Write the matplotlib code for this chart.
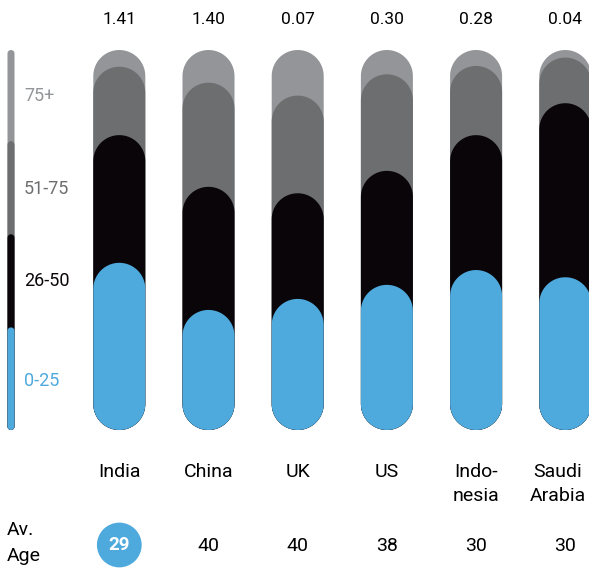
import matplotlib
matplotlib.use("Agg")
import numpy as np
import matplotlib.pyplot as plt
from matplotlib.patches import Polygon
from matplotlib.transforms import blended_transform_factory

plt.rcParams['font.family'] = ['Roboto', 'DejaVu Sans']

countries = ['India', 'China', 'UK', 'US', 'Indo-\nnesia', 'Saudi\nArabia']
population_bn = [1.41, 1.40, 0.07, 0.30, 0.28, 0.04]
age_0_25 = [44.0, 31.6, 34.5, 38.2, 42.1, 40.2]
age_26_50 = [33.6, 32.4, 27.8, 30.0, 35.5, 45.8]
age_51_75 = [18.0, 27.4, 25.7, 25.4, 18.2, 12.0]
age_75_plus = [4.4, 8.6, 12.0, 6.4, 4.2, 2.0]
avg_age = [29, 40, 40, 38, 30, 30]
group_labels = ['0-25', '26-50', '51-75', '75+']
legend_tops = [27, 51.5, 76, 100]

BLUE = '#4ea9dd'
BLACK = '#0a0509'
DARK = '#6d6e70'
LIGHT = '#939598'
colors = [BLUE, BLACK, DARK, LIGHT]

W, H = 589, 571
fig = plt.figure(figsize=(W / 100, H / 100), dpi=100)
# bar area: 50px to 430px from the top, full width
ax = fig.add_axes([0, (H - 430) / H, 1, 380 / H])
step = 89.2
x0 = 119.3
ax.set_xlim(-x0 / step, (W - x0) / step)
ax.set_ylim(0, 100)
ax.axis('off')

# y units per x unit, so the caps come out as true semicircles
aspect = (W / (ax.get_xlim()[1] - ax.get_xlim()[0])) / (380 / 100)
theta = np.linspace(0, np.pi, 40)


def pill(x, top, width, color):
    r = width / 2
    ry = r * aspect
    top_cap = np.column_stack([x + r * np.cos(theta), top - ry + ry * np.sin(theta)])
    bot_cap = np.column_stack([x - r * np.cos(theta), ry - ry * np.sin(theta)])
    ax.add_patch(Polygon(np.vstack([top_cap, bot_cap]), closed=True,
                         fc=color, ec='none'))


series = [age_0_25, age_26_50, age_51_75, age_75_plus]
bar_w = 52 / step
for i in range(len(countries)):
    tops = np.cumsum([s[i] for s in series])
    # outermost group first so the younger groups sit on top
    for top, c in reversed(list(zip(tops, colors))):
        pill(i, top, bar_w, c)

# legend strip on the left
leg_x = (11 - x0) / step
leg_w = 7 / step
for k in reversed(range(4)):
    pill(leg_x, legend_tops[k], leg_w, colors[k])

lab_x = (24 - x0) / step
for k, (lab, yy) in enumerate(zip(group_labels, [12.8, 39.3, 63.5, 88.0])):
    ax.text(lab_x, yy, lab, color=colors[k], fontsize=13,
            ha='left', va='center')

tr = blended_transform_factory(ax.transData, fig.transFigure)


def fy(px):
    return 1 - px / H


last = len(countries) - 1
for i, name in enumerate(countries):
    ax.text(i, fy(20), '%.2f' % population_bn[i], transform=tr,
            ha='center', va='center', fontsize=12.5)
    if i == last:
        # keep the last name inside the right edge
        ax.text((586 - x0) / step, fy(463), name, transform=tr, ha='right',
                va='top', multialignment='center', fontsize=14, linespacing=1.4)
    else:
        ax.text(i, fy(463), name, transform=tr, ha='center', va='top',
                fontsize=14, linespacing=1.4)
    if avg_age[i] == min(avg_age):
        ax.text(i, fy(545), str(avg_age[i]), transform=tr, ha='center',
                va='center', fontsize=13.5, color='white', fontweight='bold',
                bbox=dict(boxstyle='circle,pad=0.62', fc=BLUE, ec='none'))
    else:
        ax.text(i, fy(546), str(avg_age[i]), transform=tr, ha='center',
                va='center', fontsize=14)

fig.text(7 / W, fy(543), 'Av.\nAge', ha='left', va='center', fontsize=14,
         linespacing=1.6)

fig.savefig('out.png', dpi=100)
